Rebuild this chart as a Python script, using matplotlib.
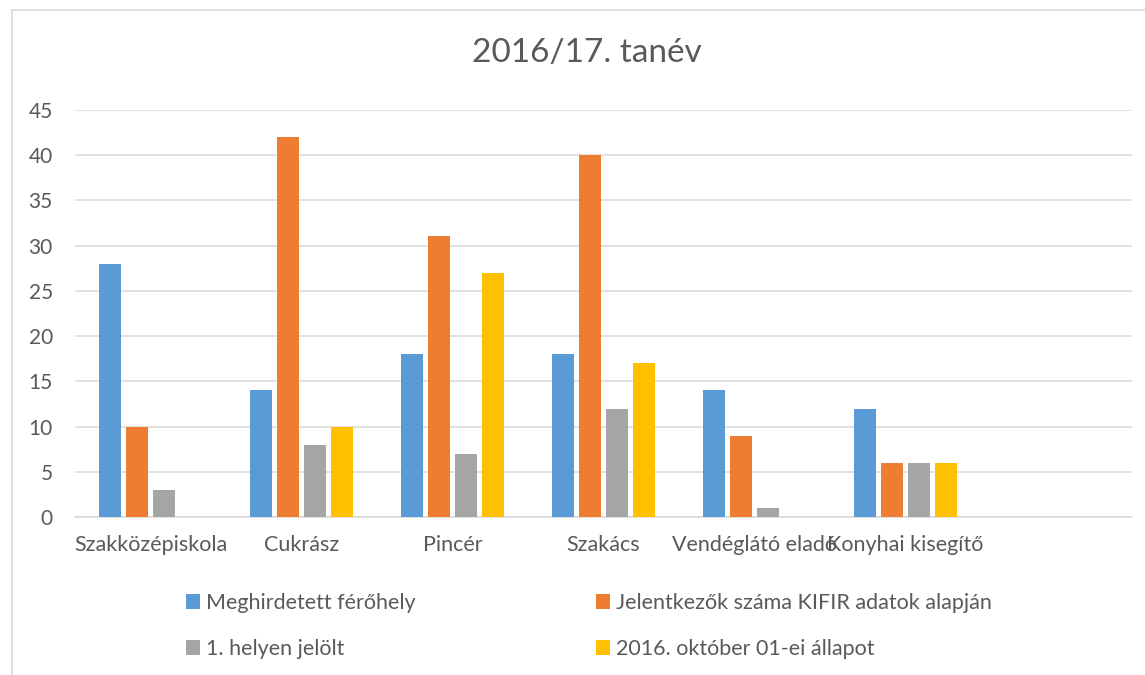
import matplotlib.pyplot as plt
import numpy as np
from matplotlib.patches import Rectangle

plt.rcParams['font.family'] = ['Lato', 'DejaVu Sans']

# adatok
kategoriak = ['Szakközépiskola', 'Cukrász', 'Pincér', 'Szakács',
              'Vendéglátó eladó', 'Konyhai kisegítő', '']
meghirdetett = [28, 14, 18, 18, 14, 12, 0]
jelentkezok = [10, 42, 31, 40, 9, 6, 0]
elso_helyen = [3, 8, 7, 12, 1, 6, 0]
oktober = [0, 10, 27, 17, 0, 6, 0]

sorozatok = ['Meghirdetett férőhely', 'Jelentkezők száma KIFIR adatok alapján',
             '1. helyen jelölt', '2016. október 01-ei állapot']
szinek = ['#5B9BD5', '#ED7D31', '#A5A5A5', '#FFC000']

W, H = 1145, 675
fig = plt.figure(figsize=(W / 100, H / 100), dpi=100)
ax = fig.add_axes([75 / W, 1 - 517.3 / H, (1132 - 75) / W, (517.3 - 109.6) / H])

x = np.arange(len(kategoriak))
lepes = 0.179
szelesseg = 0.142
bars = []
for i, (adat, szin) in enumerate(zip([meghirdetett, jelentkezok, elso_helyen, oktober], szinek)):
    b = ax.bar(x + (i - 1.5) * lepes, adat, szelesseg, color=szin, label=sorozatok[i], zorder=3)
    bars.append(b)

ax.set_xlim(-0.5, len(kategoriak) - 0.5)
ax.set_ylim(0, 45)
ax.set_yticks(range(0, 50, 5))
ax.set_xticks(x)
ax.set_xticklabels(kategoriak)
ax.yaxis.grid(True, color='#D9D9D9', linewidth=1.1, zorder=0)
for s in ['top', 'right', 'left']:
    ax.spines[s].set_visible(False)
ax.spines['bottom'].set_color('#D9D9D9')
ax.spines['bottom'].set_linewidth(1.1)
ax.tick_params(axis='both', length=0, labelsize=15, colors='#595959')
ax.tick_params(axis='x', pad=13, labelsize=15.5)
ax.tick_params(axis='y', pad=16)

fig.text(587 / W, 1 - 53 / H, '2016/17. tanév', ha='center', va='center',
         fontsize=24, color='#595959')

# ket oszlopos jelmagyarazat, sorfolytonosan
for hs, ls, xpos in [([bars[0], bars[2]], [sorozatok[0], sorozatok[2]], 186),
                     ([bars[1], bars[3]], [sorozatok[1], sorozatok[3]], 596)]:
    leg = fig.legend(hs, ls, loc='center left', bbox_to_anchor=(xpos / W, 1 - 626 / H),
                     frameon=False, fontsize=15.5, handlelength=0.65, handleheight=0.65,
                     handletextpad=0.3, labelspacing=1.2, borderpad=0, borderaxespad=0)
    for t in leg.get_texts():
        t.set_color('#595959')

# keret
fig.patches.append(Rectangle((12 / W, -0.1), 1.2, 1 - 10 / H + 0.1, transform=fig.transFigure,
                             fill=False, edgecolor='#D9D9D9', linewidth=1.2))

fig.savefig('out.png', dpi=100)
